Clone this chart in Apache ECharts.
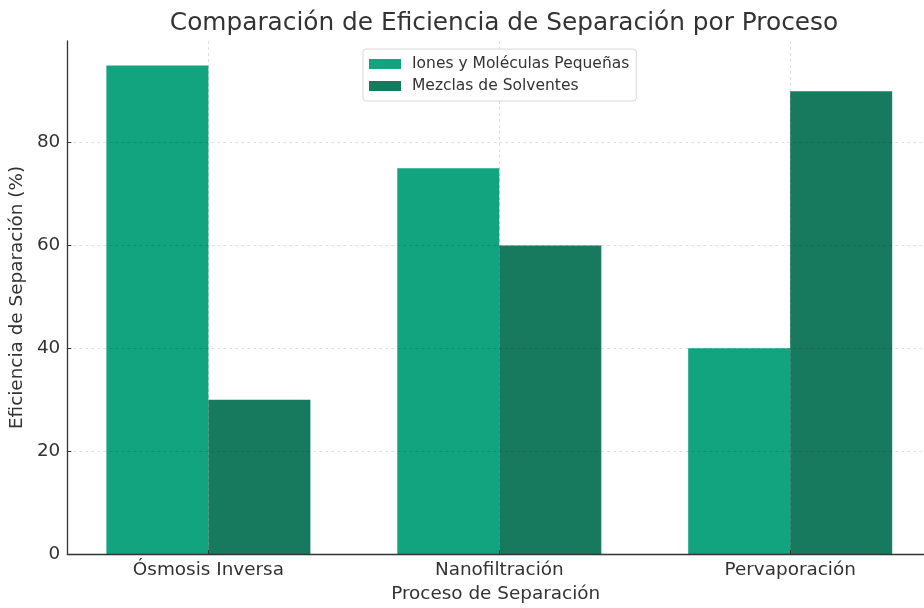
<!DOCTYPE html>
<html>
<head>
<meta charset="utf-8">
<script src="https://cdn.jsdelivr.net/npm/echarts@6/dist/echarts.min.js"></script>
<style>
html,body{margin:0;padding:0;background:#fff;}
#main{width:924px;height:608px;}
</style>
</head>
<body>
<div id="main"></div>
<script>
const categories = ['Ósmosis Inversa', 'Nanofiltración', 'Pervaporación'];
const seriesNames = ['Iones y Moléculas Pequeñas', 'Mezclas de Solventes'];
const ionesValues = [95, 75, 40];
const mezclasValues = [30, 60, 90];
const yTicks = [0, 20, 40, 60, 80];
const xTicks = [0, 1, 2];

const FONT = 'DejaVu Sans';
const chart = echarts.init(document.getElementById('main'), null, {renderer: 'canvas'});

const toPoints = vals => vals.map((v, i) => [i, v]);

chart.setOption({
  animation: false,
  backgroundColor: '#fff',
  textStyle: {fontFamily: FONT},
  title: {
    text: 'Comparación de Eficiencia de Separación por Proceso',
    left: 499, top: 6, textAlign: 'center',
    textStyle: {fontFamily: FONT, fontSize: 24.8, fontWeight: 'normal', color: '#333'}
  },
  legend: {
    orient: 'vertical',
    left: 363, top: 49,
    padding: [7, 7, 7, 6],
    itemWidth: 32, itemHeight: 10, itemGap: 6,
    borderColor: '#d8d8d8', borderWidth: 1, borderRadius: 3,
    backgroundColor: 'rgba(255,255,255,0.85)',
    icon: 'rect',
    textStyle: {fontFamily: FONT, fontSize: 15.5, color: '#333', padding: [0, 0, 0, 6]},
    data: seriesNames
  },
  grid: {left: 67, right: 0, top: 41, bottom: 51},
  xAxis: {
    type: 'value', min: -0.485, max: 2.46,
    z: 3,
    name: 'Proceso de Separación', nameLocation: 'middle', nameGap: 31,
    nameTextStyle: {fontFamily: FONT, fontSize: 18.4, color: '#333'},
    axisLine: {show: true, onZero: false, lineStyle: {color: '#333', width: 1.3}},
    axisTick: {show: true, inside: true, length: 4, customValues: xTicks, lineStyle: {color: '#333', width: 1}},
    axisLabel: {
      customValues: xTicks, margin: 7,
      fontFamily: FONT, fontSize: 18.4, color: '#333',
      formatter: v => categories[Math.round(v)]
    },
    splitLine: {show: true, lineStyle: {color: 'rgba(0,0,0,0.13)', type: [3, 3], width: 1}}
  },
  yAxis: {
    type: 'value', min: 0, max: 99.75,
    z: 3,
    name: 'Eficiencia de Separación (%)', nameLocation: 'middle', nameGap: 37, nameRotate: 90,
    nameTextStyle: {fontFamily: FONT, fontSize: 18.4, color: '#333'},
    axisLine: {show: true, onZero: false, lineStyle: {color: '#333', width: 1.3}},
    axisTick: {show: true, inside: true, length: 4, customValues: yTicks, lineStyle: {color: '#333', width: 1}},
    axisLabel: {customValues: yTicks, margin: 7, fontFamily: FONT, fontSize: 18.4, color: '#333'},
    splitLine: {show: true, lineStyle: {color: 'rgba(0,0,0,0.13)', type: [3, 3], width: 1}}
  },
  series: [
    {
      name: seriesNames[0], type: 'bar', z: 1,
      barWidth: 102, barGap: '0%',
      itemStyle: {color: '#12a37f'},
      data: toPoints(ionesValues)
    },
    {
      name: seriesNames[1], type: 'bar', z: 1,
      barWidth: 102, barGap: '0%',
      itemStyle: {color: '#177a5f'},
      data: toPoints(mezclasValues)
    }
  ]
});
</script>
</body>
</html>
